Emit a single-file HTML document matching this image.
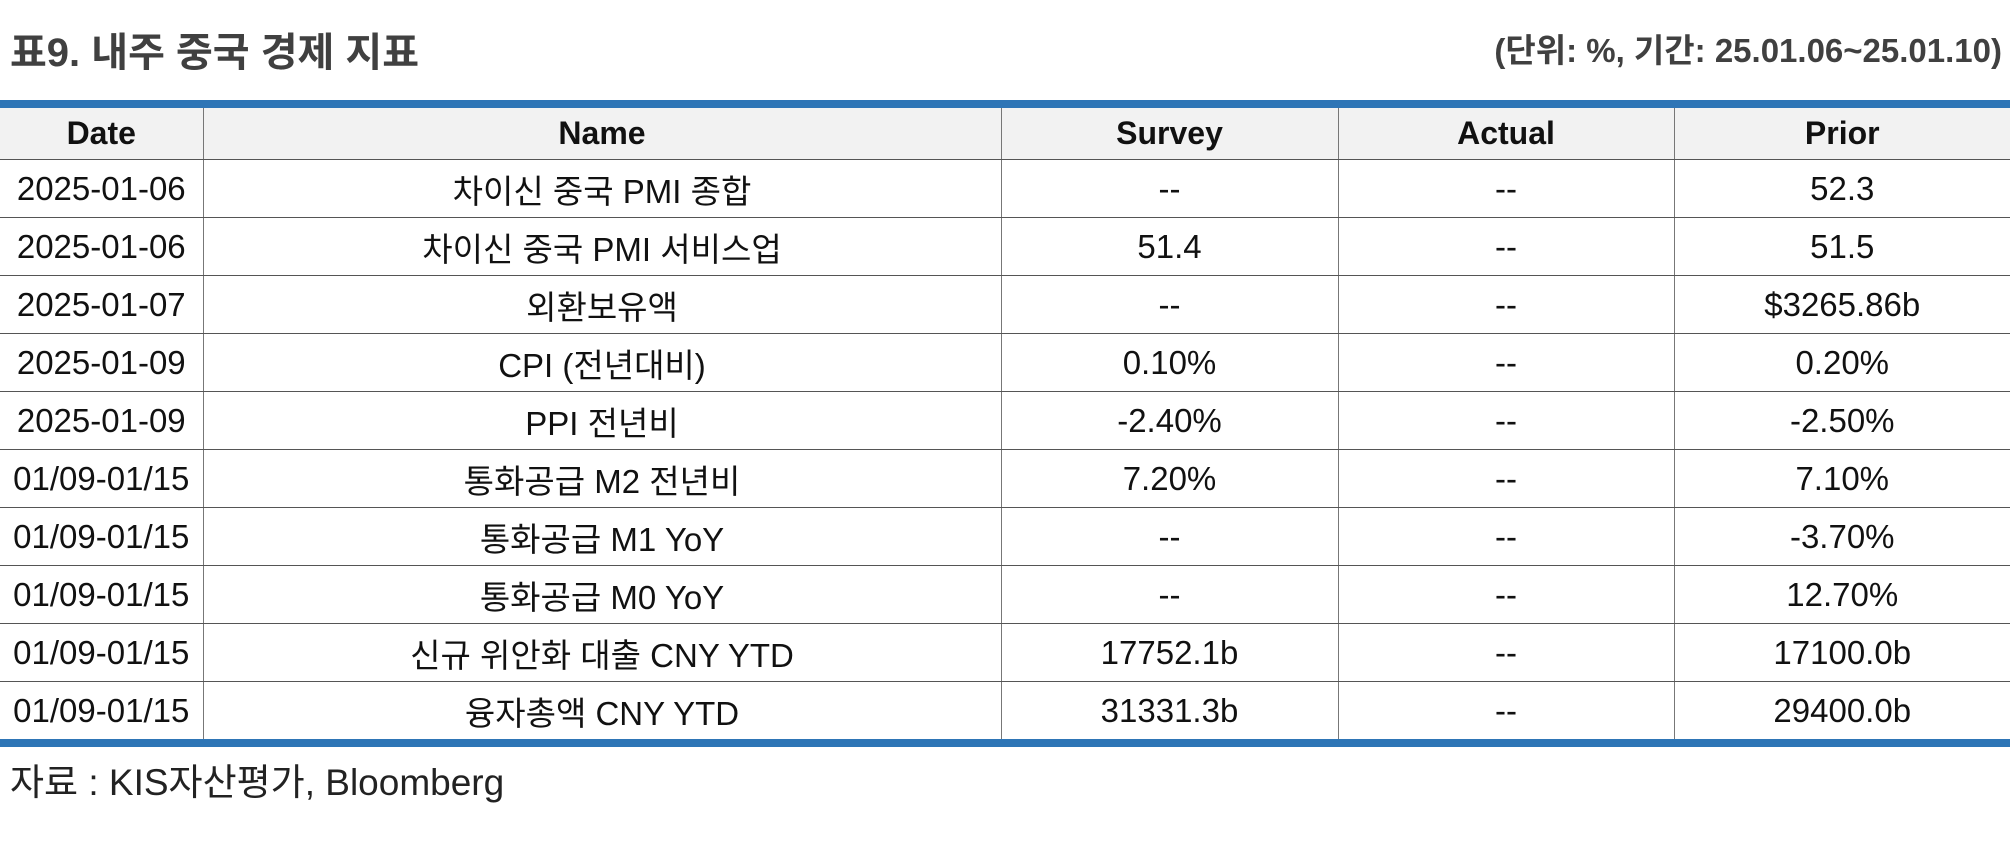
<!DOCTYPE html>
<html><head><meta charset="utf-8"><style>
body{margin:0;width:2012px;height:848px;background:#fff;position:relative;overflow:hidden;font-family:"Liberation Sans","Noto Sans CJK KR",sans-serif;}
.title{position:absolute;left:10px;top:20px;font-size:40px;font-weight:bold;color:#404040;}
.unit{position:absolute;right:10px;top:24px;font-size:33px;font-weight:bold;color:#404040;}
table{position:absolute;left:0;top:100px;width:2010px;border-collapse:collapse;table-layout:fixed;border-top:8px solid #2e75b6;border-bottom:8px solid #2e75b6;}
th,td{text-align:center;font-size:33px;color:#111;padding:0;border-left:1px solid #777;border-right:1px solid #777;border-bottom:1.5px solid #555;}
th:first-child,td:first-child{border-left:none}
th:last-child,td:last-child{border-right:none}
th{height:51px;background:#f2f2f2;font-weight:bold;font-size:32px;}
td{height:57px;}
tr:last-child td{border-bottom:none}
.src{position:absolute;left:10px;top:752px;font-size:37px;color:#222;}
</style></head><body>
<div class="title">표9. 내주 중국 경제 지표</div>
<div class="unit">(단위: %, 기간: 25.01.06~25.01.10)</div>
<table>
<colgroup><col style="width:203px"><col style="width:798px"><col style="width:337px"><col style="width:336px"><col style="width:336px"></colgroup>
<tr><th>Date</th><th>Name</th><th>Survey</th><th>Actual</th><th>Prior</th></tr>
<tr><td>2025-01-06</td><td>차이신 중국 PMI 종합</td><td>--</td><td>--</td><td>52.3</td></tr>
<tr><td>2025-01-06</td><td>차이신 중국 PMI 서비스업</td><td>51.4</td><td>--</td><td>51.5</td></tr>
<tr><td>2025-01-07</td><td>외환보유액</td><td>--</td><td>--</td><td>$3265.86b</td></tr>
<tr><td>2025-01-09</td><td>CPI (전년대비)</td><td>0.10%</td><td>--</td><td>0.20%</td></tr>
<tr><td>2025-01-09</td><td>PPI 전년비</td><td>-2.40%</td><td>--</td><td>-2.50%</td></tr>
<tr><td>01/09-01/15</td><td>통화공급 M2 전년비</td><td>7.20%</td><td>--</td><td>7.10%</td></tr>
<tr><td>01/09-01/15</td><td>통화공급 M1 YoY</td><td>--</td><td>--</td><td>-3.70%</td></tr>
<tr><td>01/09-01/15</td><td>통화공급 M0 YoY</td><td>--</td><td>--</td><td>12.70%</td></tr>
<tr><td>01/09-01/15</td><td>신규 위안화 대출 CNY YTD</td><td>17752.1b</td><td>--</td><td>17100.0b</td></tr>
<tr><td>01/09-01/15</td><td>융자총액 CNY YTD</td><td>31331.3b</td><td>--</td><td>29400.0b</td></tr>
</table>
<div class="src">자료 : KIS자산평가, Bloomberg</div>
</body></html>
